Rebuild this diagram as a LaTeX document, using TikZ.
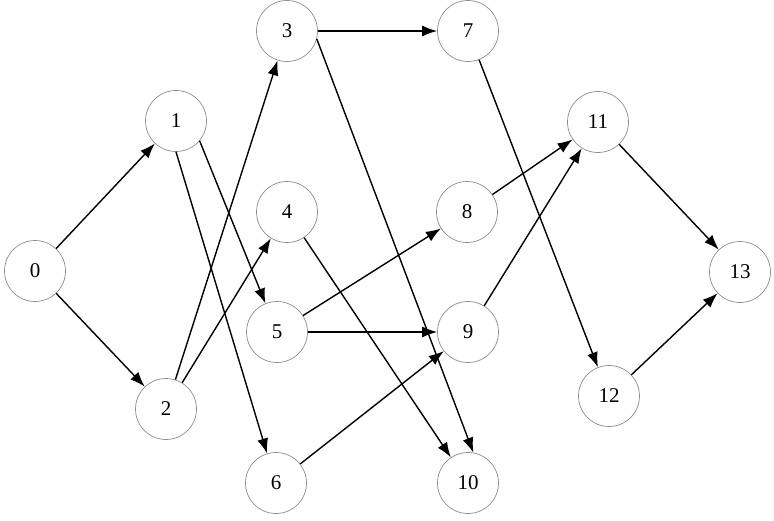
\documentclass[tikz,border=0pt]{standalone}
\usepackage{fontspec}
\setmainfont{Liberation Serif}
\usetikzlibrary{arrows.meta}
\begin{document}
\begin{tikzpicture}[x=1pt,y=-1pt,
  vert/.style={circle,draw=black!45,line width=0.7pt,minimum size=61pt,inner sep=0pt,font=\fontsize{21}{25}\selectfont},
  edge/.style={line width=1.4pt,-{Latex[length=15pt,width=11pt]},shorten >=0pt}]
\useasboundingbox (0,0) rectangle (774,520);
\node[vert] (n0) at (35,271) {0};
\node[vert] (n1) at (176,121) {1};
\node[vert] (n2) at (166,409) {2};
\node[vert] (n3) at (287,31) {3};
\node[vert] (n4) at (287,212) {4};
\node[vert] (n5) at (277,332) {5};
\node[vert] (n6) at (276,483) {6};
\node[vert] (n7) at (468,31) {7};
\node[vert] (n8) at (467,212) {8};
\node[vert] (n9) at (468,332) {9};
\node[vert] (n10) at (468,483) {10};
\node[vert] (n11) at (598,122) {11};
\node[vert] (n12) at (609,396) {12};
\node[vert] (n13) at (740,272) {13};
\draw[edge] (n0) -- (n1);
\draw[edge] (n0) -- (n2);
\draw[edge] (n1.-40) -- (n5);
\draw[edge] (n1.-90) -- (n6);
\draw[edge] (n2) -- (n3);
\draw[edge] (n2) -- (n4);
\draw[edge] (n3) -- (n7);
\draw[edge] (n3.-15) -- (n10.80);
\draw[edge] (n4) -- (n10);
\draw[edge] (n5) -- (n8);
\draw[edge] (n5) -- (n9);
\draw[edge] (n6) -- (n9);
\draw[edge] (n7) -- (n12);
\draw[edge] (n8) -- (n11);
\draw[edge] (n9) -- (n11);
\draw[edge] (n11) -- (n13);
\draw[edge] (n12) -- (n13);
\end{tikzpicture}
\end{document}
